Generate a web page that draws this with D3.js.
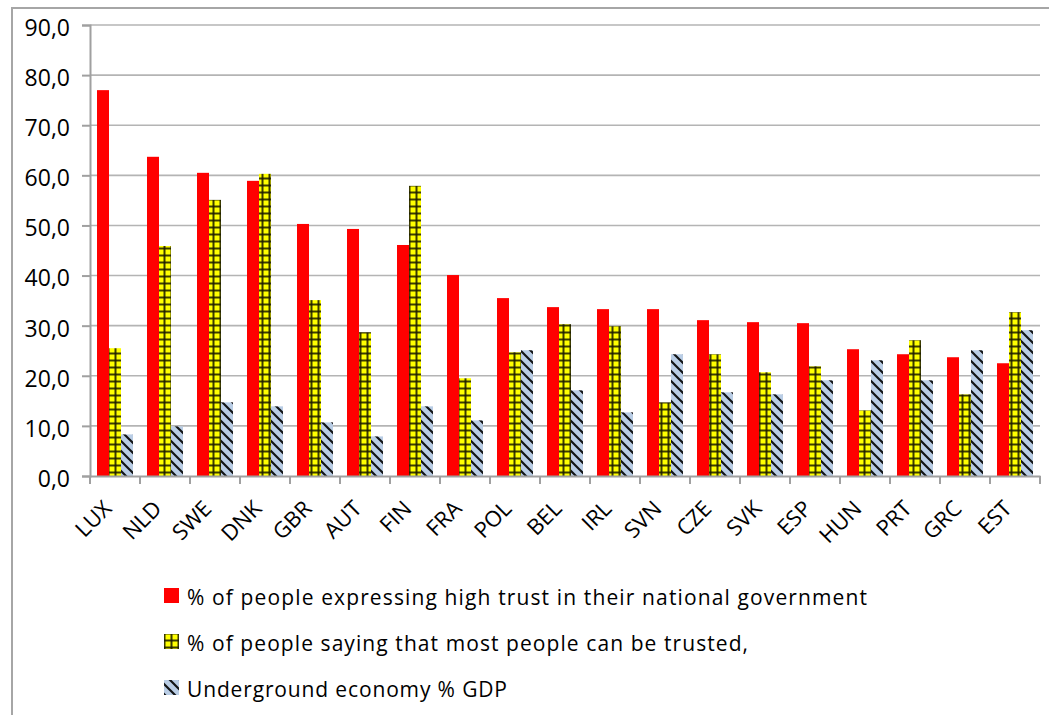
<!DOCTYPE html>
<html>
<head>
<meta charset="utf-8">
<script src="https://cdn.jsdelivr.net/npm/d3@7"></script>
<style>
  body { margin: 0; background: #fff; }
  text { font-family: "Open Sans", "DejaVu Sans", sans-serif; fill: #000; }
</style>
</head>
<body>
<div id="chart"></div>
<script>
// data
var countries = ["LUX","NLD","SWE","DNK","GBR","AUT","FIN","FRA","POL","BEL","IRL","SVN","CZE","SVK","ESP","HUN","PRT","GRC","EST"];
var trustGov = [77.0,63.7,60.5,58.9,50.3,49.3,46.1,40.1,35.5,33.7,33.3,33.3,31.1,30.7,30.5,25.3,24.3,23.7,22.5];
var trustPeople = [25.5,45.9,55.1,60.3,35.1,28.7,57.9,19.5,24.7,30.3,29.9,14.7,24.3,20.7,21.9,13.1,27.1,16.3,32.7];
var underground = [8.3,9.9,14.7,13.9,10.7,7.9,13.9,11.1,25.1,17.1,12.7,24.3,16.7,16.3,19.1,23.1,19.1,25.1,29.1];
var seriesNames = [
  "% of people expressing high trust in their national government",
  "% of people saying that most people can be trusted,",
  "Underground economy % GDP"
];
var yTicks = [0,10,20,30,40,50,60,70,80,90];

var W = 1049, H = 715;
var svg = d3.select("#chart").append("svg").attr("width", W).attr("height", H);

// patterns
var defs = svg.append("defs");
var pGrid = defs.append("pattern").attr("id","grid")
  .attr("patternUnits","userSpaceOnUse").attr("width",7).attr("height",7);
pGrid.append("rect").attr("width",7).attr("height",7).attr("fill","#ffff00");
pGrid.append("rect").attr("x",0).attr("y",2.5).attr("width",7).attr("height",2).attr("fill","#1a1a00").attr("opacity",0.85);
pGrid.append("rect").attr("x",2.5).attr("y",0).attr("width",2).attr("height",7).attr("fill","#1a1a00").attr("opacity",0.85);

var pDiag = defs.append("pattern").attr("id","diag")
  .attr("patternUnits","userSpaceOnUse").attr("width",10).attr("height",10);
pDiag.append("rect").attr("width",10).attr("height",10).attr("fill","#b9cde5");
pDiag.append("path").attr("d","M-2,-2L12,12M-2,8L2,12M8,-2L12,2")
  .attr("stroke","#000").attr("stroke-width",2.2).attr("opacity",0.9);

var fills = ["#ff0000","url(#grid)","url(#diag)"];
var data = [trustGov, trustPeople, underground];

// outer frame
svg.append("rect").attr("x",12).attr("y",8).attr("width",W+20).attr("height",H+20)
  .attr("fill","none").attr("stroke","#a6a6a6").attr("stroke-width",2);

var x = d3.scaleBand().domain(countries).range([90,1040]);
var sub = d3.scaleBand().domain([0,1,2]).range([7,43]);
var y = d3.scaleLinear().domain([0,90]).range([476,25]);

var loc = d3.formatLocale({decimal: ",", thousands: ".", grouping: [3], currency: ["", ""]});
var fmt = loc.format(".1f");

// gridlines
svg.append("g").selectAll("line").data(yTicks.slice(1)).enter().append("line")
  .attr("x1",90).attr("x2",1040)
  .attr("y1",function(d){ return y(d); }).attr("y2",function(d){ return y(d); })
  .attr("stroke","#b4b4b4").attr("stroke-width",1.6);

// bars
data.forEach(function(vals, s){
  svg.append("g").selectAll("rect").data(vals).enter().append("rect")
    .attr("x", function(d,i){ return x(countries[i]) + sub(s); })
    .attr("width", sub.bandwidth())
    .attr("y", function(d){ return y(d); })
    .attr("height", function(d){ return y(0) - y(d); })
    .attr("fill", fills[s]);
});

// y axis
var yAxis = svg.append("g").attr("transform","translate(90,0)")
  .call(d3.axisLeft(y).tickValues(yTicks).tickFormat(fmt).tickSize(8).tickPadding(12));
yAxis.select(".domain").attr("stroke","#a0a0a0").attr("stroke-width",2);
yAxis.selectAll(".tick line").attr("stroke","#a0a0a0").attr("stroke-width",2);
yAxis.selectAll(".tick text").attr("font-size",23).attr("dy","0.45em")
  .style("font-family","'Open Sans', sans-serif");

// x axis
var xAxis = svg.append("g").attr("transform","translate(0,476)")
  .call(d3.axisBottom(x).tickSize(0).tickFormat(""));
xAxis.select(".domain").attr("stroke","#a0a0a0").attr("stroke-width",2);
svg.append("g").selectAll("line").data(countries.concat(["end"])).enter().append("line")
  .attr("x1", function(d,i){ return 90 + i * x.bandwidth(); })
  .attr("x2", function(d,i){ return 90 + i * x.bandwidth(); })
  .attr("y1",476).attr("y2",484).attr("stroke","#a0a0a0").attr("stroke-width",2);

svg.append("g").selectAll("text").data(countries).enter().append("text")
  .attr("transform", function(d){ return "translate(" + (x(d) + x.bandwidth()/2 - 2) + ",510) rotate(-45)"; })
  .attr("text-anchor","end")
  .attr("font-size",22)
  .text(function(d){ return d; });

// legend
var legY = [595, 641, 687];
var legEnd = [867, 748, 507];
var leg = svg.append("g");
seriesNames.forEach(function(name, s){
  leg.append("rect").attr("x",164).attr("y",legY[s]-7).attr("width",15).attr("height",15)
    .attr("fill", fills[s]);
  leg.append("text").attr("x",187).attr("y",legY[s]+10)
    .attr("font-size",21)
    .attr("textLength", legEnd[s]-187).attr("lengthAdjust","spacing")
    .text(name);
});
</script>
</body>
</html>
